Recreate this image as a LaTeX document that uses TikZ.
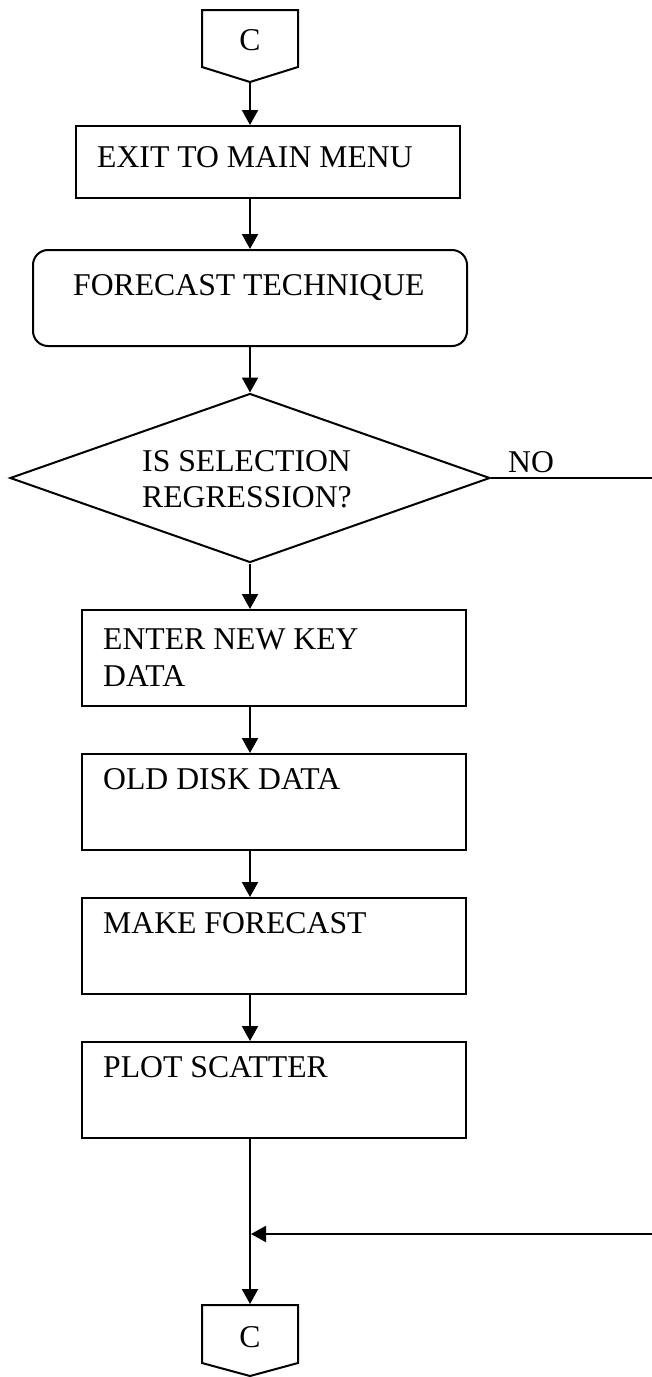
\documentclass[tikz,border=0pt]{standalone}
\usepackage{fontspec}
\setmainfont{Liberation Serif}
\usetikzlibrary{arrows.meta,shapes.geometric}
\begin{document}
\begin{tikzpicture}[x=1pt,y=-1pt,
  every node/.style={font=\fontsize{31.7pt}{36.5pt}\selectfont},
  ln/.style={line width=2pt},
  arr/.style={ln,-{Triangle[length=15pt,width=16pt]}},
  box/.style={draw,ln,rectangle,inner sep=0pt},
  lbl/.style={inner sep=0pt,anchor=base west},
  lbltwo/.style={inner sep=0pt,anchor=north west,align=left}]

% page frame
\fill[white] (0,0) rectangle (651,1377);
\useasboundingbox (0,0) rectangle (651,1377);

% off-page connector at the top
\draw[ln] (202,10) -- (298,10) -- (298,67) -- (250,82) -- (202,67) -- cycle;
\coordinate (cTopTip) at (250,82);
\node[inner sep=0pt,anchor=base] (cTop) at (250,50) {C};

% process boxes
\node[box,minimum width=384pt,minimum height=72pt] (exit) at (268,162) {};
\node[lbl] (exitT) at (97,167) {EXIT TO MAIN MENU};

\node[box,rounded corners=15pt,minimum width=434pt,minimum height=96pt] (tech) at (250,298) {};
\node[lbl] (techT) at (73,295) {FORECAST TECHNIQUE};

\node[draw,ln,diamond,inner sep=0pt,minimum width=480pt,minimum height=169pt] (sel) at (250,478) {};
\node[lbltwo] (selT) at (142,450) {IS SELECTION\\REGRESSION?};
\node[lbl] (no) at (508,472) {NO};

\node[box,minimum width=384pt,minimum height=96pt] (enter) at (274,658) {};
\node[lbltwo] (enterT) at (103,629) {ENTER NEW KEY\\DATA};

\node[box,minimum width=384pt,minimum height=96pt] (disk) at (274,802) {};
\node[lbl] (diskT) at (103,789) {OLD DISK DATA};

\node[box,minimum width=384pt,minimum height=96pt] (make) at (274,946) {};
\node[lbl] (makeT) at (103,933) {MAKE FORECAST};

\node[box,minimum width=384pt,minimum height=96pt] (plot) at (274,1090) {};
\node[lbl] (plotT) at (103,1077) {PLOT SCATTER};

% off-page connector at the bottom
\draw[ln] (202,1305) -- (298,1305) -- (298,1363) -- (250,1376) -- (202,1363) -- cycle;
\coordinate (cBotTop) at (250,1304);
\node[inner sep=0pt,anchor=base] (cBot) at (250,1347) {C};

% flow lines
\coordinate (noEnd) at (653,478);
\coordinate (retStart) at (653,1234);
\coordinate (join) at (251,1234);

\draw[arr] (cTopTip) -- (cTopTip |- exit.north);
\draw[arr] (cTopTip |- exit.south) -- (cTopTip |- tech.north);
\draw[arr] (tech.south) -- (sel.north);
\draw[arr] (sel.south) -- (sel.south |- enter.north);
\draw[arr] (sel.south |- enter.south) -- (sel.south |- disk.north);
\draw[arr] (sel.south |- disk.south) -- (sel.south |- make.north);
\draw[arr] (sel.south |- make.south) -- (sel.south |- plot.north);
\draw[arr] (sel.south |- plot.south) -- (cBotTop);
\draw[ln] (sel.east) -- (sel.east -| noEnd);
\draw[arr] (retStart) -- (join);
\end{tikzpicture}
\end{document}
